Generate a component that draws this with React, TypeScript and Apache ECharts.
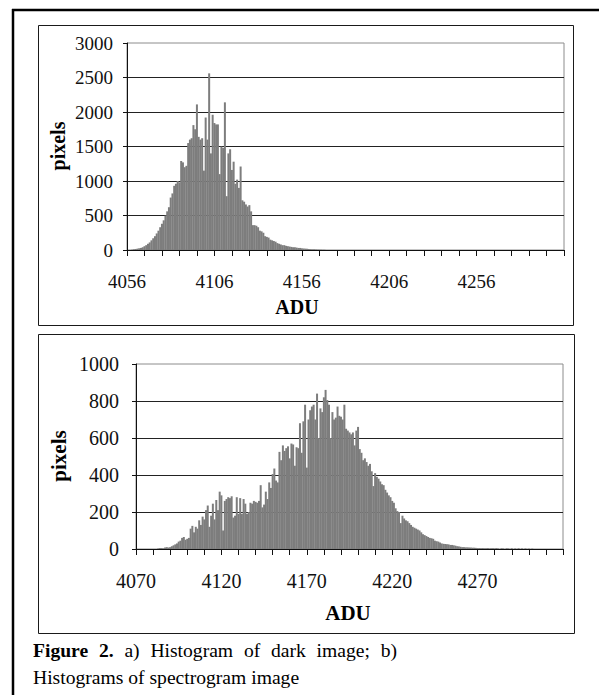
import React, { useEffect, useRef } from "react";
import * as echarts from "echarts";

// ---- a) dark image histogram (one bar per ADU value) ----
const darkFirstAdu = 4059;
const darkCounts = [
  5, 10, 15, 20, 25, 30, 40, 55, 70, 90,
  110, 140, 170, 200, 240, 280, 330, 380, 430, 500,
  560, 620, 760, 820, 930, 960, 1000, 980, 1290, 1270,
  1200, 1220, 1550, 1600, 1620, 1810, 1750, 2110, 1640, 1600,
  1620, 1150, 1920, 1600, 2560, 1400, 1960, 1840, 1820, 1820,
  1100, 1500, 1480, 2140, 780, 1400, 1460, 1160, 1280, 960,
  1020, 900, 1210, 720, 700, 660, 630, 650, 560, 360,
  360, 350, 330, 280, 270, 250, 200, 190, 180, 150,
  140, 130, 120, 100, 90, 80, 70, 70, 60, 55,
  50, 45, 40, 40, 35, 30, 30, 25, 22, 20,
  18, 15, 12, 10, 10, 8, 6, 5, 4, 3, 3,
];

// ---- b) spectrogram image histogram ----
const specFirstAdu = 4083;
const specCounts = [
  3, 5, 5, 4, 8, 10, 8, 10, 15, 20,
  25, 30, 40, 45, 60, 65, 50, 55, 60, 110,
  125, 90, 120, 110, 155, 130, 175, 160, 210, 235,
  120, 180, 245, 160, 265, 210, 310, 290, 100, 260,
  270, 280, 275, 285, 170, 180, 280, 190, 275, 190,
  270, 245, 190, 200, 250, 245, 260, 255, 250, 260,
  345, 225, 240, 310, 270, 360, 330, 405, 435, 370,
  360, 525, 480, 560, 530, 545, 555, 490, 570, 565,
  450, 550, 545, 680, 520, 690, 780, 440, 700, 750,
  770, 780, 700, 840, 600, 760, 740, 820, 860, 805,
  780, 600, 740, 700, 710, 770, 720, 715, 700, 780,
  650, 640, 630, 620, 630, 560, 640, 660, 540, 520,
  480, 490, 470, 450, 460, 420, 340, 410, 390, 380,
  365, 350, 345, 320, 305, 290, 280, 260, 250, 220,
  205, 200, 140, 180, 165, 155, 150, 140, 130, 120,
  115, 110, 105, 100, 90, 80, 75, 70, 65, 60,
  58, 55, 45, 42, 40, 35, 30, 28, 27, 26,
  25, 22, 22, 20, 18, 15, 14, 12, 10, 10,
  9, 9, 8, 8, 7, 7, 6, 5, 5, 4,
  5, 4, 4, 5, 3, 4, 4, 3, 5, 3,
  0, 4, 3, 0, 4, 3, 0, 4, 0, 3,
  0, 4, 0, 3, 0, 3, 0, 2, 0, 2,
];

// ---- axes ----
const darkXRange = [4056, 4306];
const darkXLabels = [4056, 4106, 4156, 4206, 4256];
const darkYRange = [0, 3000];
const darkYStep = 500;

const specXRange = [4070, 4320];
const specXLabels = [4070, 4120, 4170, 4220, 4270];
const specYRange = [0, 1000];
const specYStep = 200;

const xTickStep = 10;

// caption words (line 1 is justified, first two words bold)
const captionWords1 = ["Figure", "2.", "a)", "Histogram", "of", "dark", "image;", "b)"];
const captionBoldCount = 2;
const captionLine2 = "Histograms of spectrogram image";

const SERIF = "'Liberation Serif', 'Times New Roman', serif";
const CAPTION_SIZE = 19.6;

function xAxisFor(gridIndex: number, range: number[], labels: number[], fontSize: number) {
  return {
    type: "value",
    gridIndex,
    min: range[0],
    max: range[1],
    interval: xTickStep,
    axisLine: { show: true, onZero: false, lineStyle: { color: "#111", width: 1 } },
    axisTick: { show: true, inside: false, length: 6, lineStyle: { color: "#111" } },
    axisLabel: {
      margin: 22,
      fontFamily: SERIF,
      fontSize,
      color: "#111",
      showMaxLabel: true,
      showMinLabel: true,
      formatter: (v: number) => (labels.includes(v) ? String(v) : ""),
    },
    splitLine: { show: false },
  };
}

function yAxisFor(gridIndex: number, range: number[], step: number, margin: number, fontSize: number) {
  return {
    type: "value",
    gridIndex,
    min: range[0],
    max: range[1],
    interval: step,
    axisLine: { show: true, lineStyle: { color: "#111", width: 1 } },
    axisTick: { show: true, inside: false, length: 4, lineStyle: { color: "#111" } },
    axisLabel: { margin, fontFamily: SERIF, fontSize, color: "#111", formatter: (v: number) => String(v) },
    splitLine: {
      show: true,
      showMaxLine: false,
      lineStyle: { color: "#222", width: 1 },
    },
  };
}

function justifiedCaption(x0: number, x1: number, y: number) {
  const ctx = document.createElement("canvas").getContext("2d");
  const fontFor = (bold: boolean) => `${bold ? "bold " : ""}${CAPTION_SIZE}px ${SERIF}`;
  const widths = captionWords1.map((w, i) => {
    if (!ctx) return w.length * CAPTION_SIZE * 0.45;
    ctx.font = fontFor(i < captionBoldCount);
    return ctx.measureText(w).width;
  });
  const total = widths.reduce((a, b) => a + b, 0);
  const gap = (x1 - x0 - total) / (captionWords1.length - 1);
  let x = x0;
  return captionWords1.map((w, i) => {
    const el = {
      type: "text",
      x,
      y,
      style: { text: w, font: fontFor(i < captionBoldCount), fill: "#000", align: "left", verticalAlign: "middle" },
    };
    x += widths[i] + gap;
    return el;
  });
}

export default function App() {
  const ref = useRef<HTMLDivElement>(null);

  useEffect(() => {
    if (!ref.current) return;
    const chart = echarts.init(ref.current, null, { renderer: "svg" });

    const darkData = darkCounts.map((c, i) => [darkFirstAdu + i, c]);
    const specData = specCounts.map((c, i) => [specFirstAdu + i, c]);

    chart.setOption({
      animation: false,
      backgroundColor: "#ffffff",
      grid: [
        {
          left: 127, top: 43, width: 437, height: 207,
          show: true, borderColor: "#8c8c8c", borderWidth: 1, backgroundColor: "transparent",
        },
        {
          left: 136, top: 364, width: 427, height: 185,
          show: true, borderColor: "#8c8c8c", borderWidth: 1, backgroundColor: "transparent",
        },
      ],
      xAxis: [xAxisFor(0, darkXRange, darkXLabels, 19), xAxisFor(1, specXRange, specXLabels, 20)],
      yAxis: [yAxisFor(0, darkYRange, darkYStep, 14, 19), yAxisFor(1, specYRange, specYStep, 17, 20)],
      series: [
        {
          type: "bar",
          name: "dark",
          xAxisIndex: 0,
          yAxisIndex: 0,
          data: darkData,
          barWidth: 2,
          itemStyle: { color: "#7d7d7d" },
          z: 3,
        },
        {
          type: "bar",
          name: "spectrogram",
          xAxisIndex: 1,
          yAxisIndex: 1,
          data: specData,
          barWidth: 2,
          itemStyle: { color: "#7d7d7d" },
          z: 3,
        },
      ],
      graphic: [
        // outer figure frame (top and left edges)
        { type: "line", shape: { x1: 12, y1: 10, x2: 599, y2: 10 }, style: { stroke: "#000", lineWidth: 2.5 } },
        { type: "line", shape: { x1: 13, y1: 9, x2: 13, y2: 695 }, style: { stroke: "#000", lineWidth: 2.5 } },
        // chart boxes
        { type: "rect", shape: { x: 38.5, y: 25.5, width: 535, height: 300 }, style: { fill: "none", stroke: "#1a1a1a", lineWidth: 1 } },
        { type: "rect", shape: { x: 38.5, y: 334.5, width: 536, height: 299 }, style: { fill: "none", stroke: "#1a1a1a", lineWidth: 1 } },
        // axis titles
        {
          type: "text", x: 58, y: 146, rotation: Math.PI / 2,
          style: { text: "pixels", font: `bold 20px ${SERIF}`, fill: "#000", align: "center", verticalAlign: "middle" },
        },
        {
          type: "text", x: 59, y: 456, rotation: Math.PI / 2,
          style: { text: "pixels", font: `bold 21px ${SERIF}`, fill: "#000", align: "center", verticalAlign: "middle" },
        },
        {
          type: "text", x: 297, y: 307,
          style: { text: "ADU", font: `bold 20px ${SERIF}`, fill: "#000", align: "center", verticalAlign: "middle" },
        },
        {
          type: "text", x: 348, y: 613,
          style: { text: "ADU", font: `bold 21px ${SERIF}`, fill: "#000", align: "center", verticalAlign: "middle" },
        },
        // caption
        ...justifiedCaption(33, 397, 650),
        {
          type: "text", x: 33, y: 677,
          style: { text: captionLine2, font: `${CAPTION_SIZE}px ${SERIF}`, fill: "#000", align: "left", verticalAlign: "middle" },
        },
      ],
    });

    return () => chart.dispose();
  }, []);

  return (
    <div
      ref={ref}
      style={{ position: "absolute", left: 0, top: 0, width: 599, height: 695, background: "#fff" }}
    />
  );
}
